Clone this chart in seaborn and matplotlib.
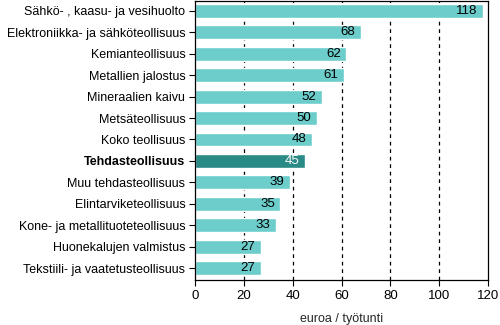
import matplotlib
matplotlib.use("Agg")
import matplotlib.pyplot as plt
import seaborn as sns
import pandas as pd

categories = ["Sähkö- , kaasu- ja vesihuolto", "Elektroniikka- ja sähköteollisuus",
              "Kemianteollisuus", "Metallien jalostus", "Mineraalien kaivu",
              "Metsäteollisuus", "Koko teollisuus", "Tehdasteollisuus",
              "Muu tehdasteollisuus", "Elintarviketeollisuus",
              "Kone- ja metallituoteteollisuus", "Huonekalujen valmistus",
              "Tekstiili- ja vaatetusteollisuus"]
values = [118, 68, 62, 61, 52, 50, 48, 45, 39, 35, 33, 27, 27]
highlight = "Tehdasteollisuus"
x_ticks = [0, 20, 40, 60, 80, 100, 120]
x_label = "euroa / työtunti"

sns.set_theme(style="white")
plt.rcParams['font.family'] = ['Liberation Sans', 'DejaVu Sans']

light = "#6ccdcb"
dark = "#2a8a85"

df = pd.DataFrame({"cat": categories, "val": values})
df["grp"] = ["h" if c == highlight else "n" for c in categories]

fig = plt.figure(figsize=(5, 3.25), dpi=100)
ax = fig.add_axes([0.39, 0.138, 0.586, 0.859])
sns.barplot(data=df, y="cat", x="val", hue="grp", palette={"n": light, "h": dark},
            orient="h", width=0.65, dodge=False, legend=False, ax=ax, saturation=1)

ax.set_xlim(0, 120)
ax.set_ylim(len(categories) - 0.45, -0.45)
ax.set_xticks(x_ticks)
ax.set_xticklabels([str(t) for t in x_ticks], fontsize=9.5)
for t in x_ticks[1:-1]:
    ax.axvline(t, color="black", linestyle=(0, (3, 3)), linewidth=0.9, zorder=0)
ax.set_axisbelow(True)

ax.set_ylabel("")
ax.set_xlabel(x_label, fontsize=9, labelpad=8)
ax.set_yticks(range(len(categories)))
ax.set_yticklabels(categories, fontsize=9)
for lbl in ax.get_yticklabels():
    if lbl.get_text() == highlight:
        lbl.set_fontweight("bold")

ax.tick_params(axis="both", which="both", direction="out", length=4, width=0.8,
               color="black", left=True, bottom=True, pad=3, labelcolor="black")
for s in ax.spines.values():
    s.set_visible(True)
    s.set_color("black")
    s.set_linewidth(0.9)

for i, (c, v) in enumerate(zip(categories, values)):
    ax.text(v - 2.3, i, str(v), ha="right", va="center", fontsize=9.5,
            color="white" if c == highlight else "black")

fig.savefig("out.png", dpi=100)
